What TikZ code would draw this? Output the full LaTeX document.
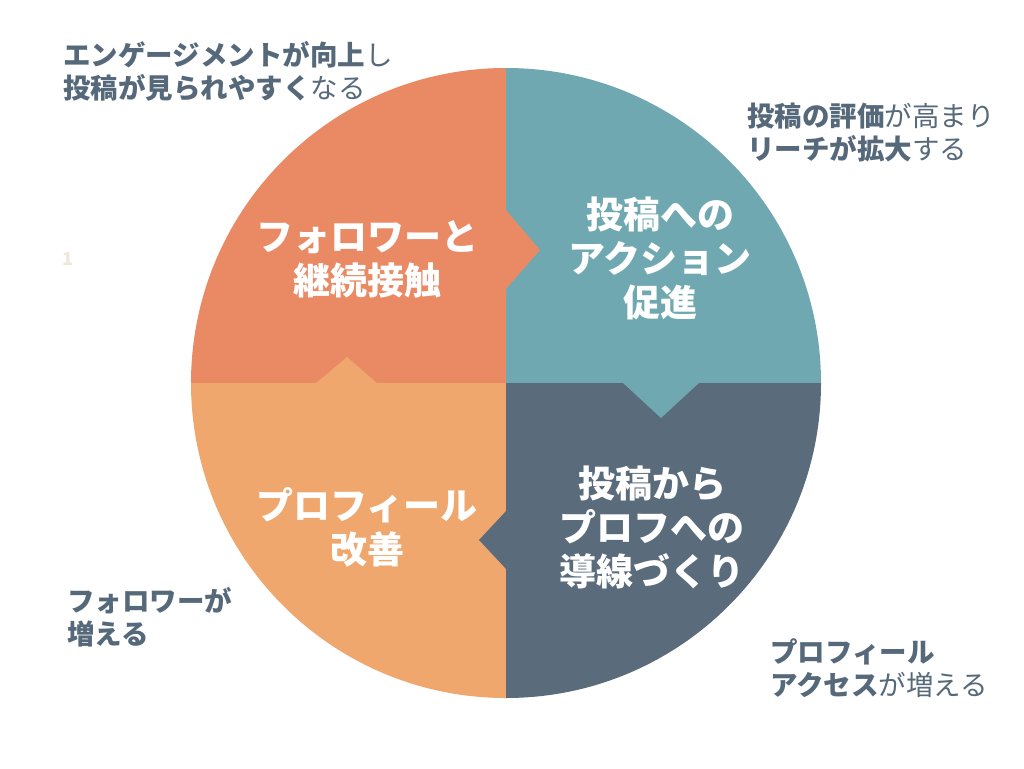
\documentclass[tikz,border=0pt]{standalone}
\usepackage{fontspec}
\setmainfont{Noto Sans CJK JP}
\definecolor{cTL}{HTML}{E98A65}
\definecolor{cTR}{HTML}{6FA8B0}
\definecolor{cBR}{HTML}{5A6B7B}
\definecolor{cBL}{HTML}{EFA76E}
\definecolor{txt}{HTML}{56697B}
\definecolor{numc}{HTML}{EFE8D8}
\tikzset{
  center label/.style={text=white, align=center, inner sep=0pt, font=\bfseries\fontsize{37}{44}\selectfont},
  side label/.style={text=txt, align=left, anchor=west, inner sep=0pt, font=\fontsize{27.5}{33}\selectfont},
}
\begin{document}
\begin{tikzpicture}[x=1pt,y=-1pt]
\useasboundingbox (0,0) rectangle (1024,768);
\fill[white] (0,0) rectangle (1024,768);
\begin{scope}
\clip (506,383) circle[radius=315];
\fill[cTL] (180,60) rectangle (506,383);
\fill[cTR] (506,60) rectangle (830,383);
\fill[cBR] (506,383) rectangle (830,710);
\fill[cBL] (180,383) rectangle (506,710);
\fill[cTL] (505,209) -- (540,250) -- (505,290) -- cycle;
\fill[cTR] (622,382) -- (661,418) -- (700,382) -- cycle;
\fill[cBR] (507,510) -- (479,540) -- (507,570) -- cycle;
\fill[cBL] (315,384) -- (347,357) -- (378,384) -- cycle;
\end{scope}
\node[center label] (tl) at (367,259) {フォロワーと\\継続接触};
\node[center label] (tr) at (660,258) {投稿への\\アクション\\促進};
\node[center label] (br) at (652,527) {投稿から\\プロフへの\\導線づくり};
\node[center label] (bl) at (367,527) {プロフィール\\改善};
\node[side label] (ltl) at (63,71) {\textbf{エンゲージメントが向上}し\\\textbf{投稿が見られやすく}なる};
\node[side label] (ltr) at (747,133) {\textbf{投稿の評価}が高まり\\\textbf{リーチが拡大}する};
\node[side label] (lbl) at (67,617) {\textbf{フォロワーが}\\\textbf{増える}};
\node[side label] (lbr) at (770,668) {\textbf{プロフィール}\\\textbf{アクセス}が増える};
\node[text=numc, inner sep=0pt, font=\bfseries\fontsize{18}{20}\selectfont] (num) at (68,259) {1};
\end{tikzpicture}
\end{document}
